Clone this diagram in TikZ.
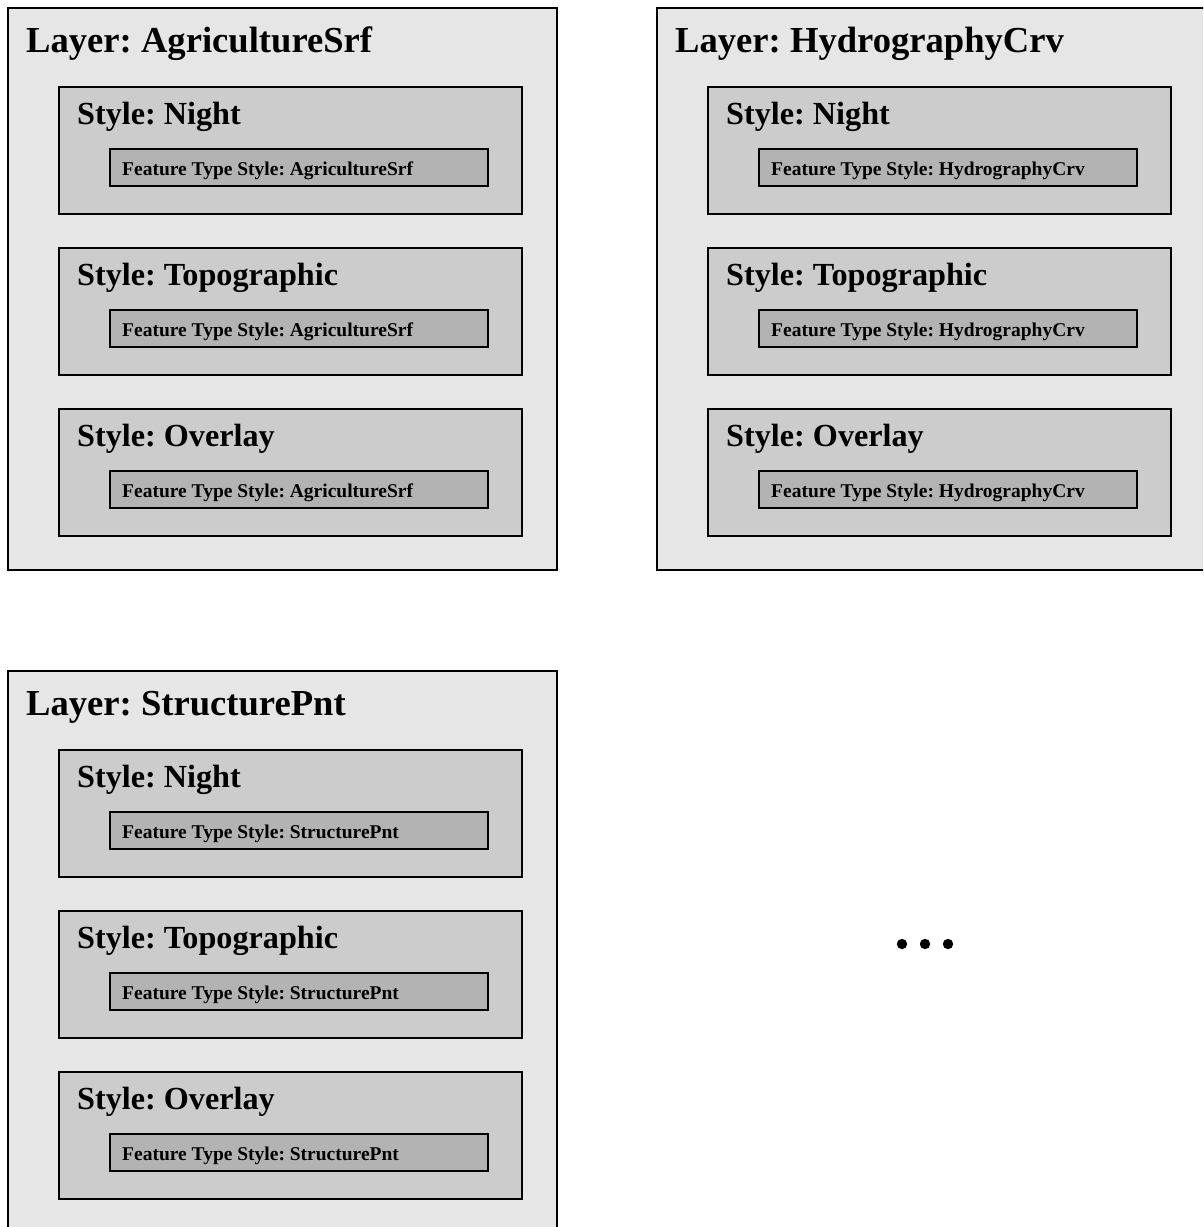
\documentclass[tikz,border=0pt]{standalone}
\usepackage{fontspec}
\setmainfont{Liberation Serif}
\frenchspacing
\begin{document}
\begin{tikzpicture}[x=1pt,y=-1pt,
  layerbox/.style={draw=black,line width=2.8pt,fill=layergray},
  stylebox/.style={draw=black,line width=2.8pt,fill=stylegray},
  ftsbox/.style={draw=black,line width=2.8pt,fill=ftsgray},
  layertext/.style={anchor=base west,inner sep=0pt,font=\fontsize{36.6}{40}\selectfont\bfseries},
  styletext/.style={anchor=base west,inner sep=0pt,font=\fontsize{32.2}{36}\selectfont\bfseries},
  ftstext/.style={anchor=base west,inner sep=0pt,font=\fontsize{19.5}{22}\selectfont\bfseries}]
\definecolor{layergray}{HTML}{E6E6E6}
\definecolor{stylegray}{HTML}{CCCCCC}
\definecolor{ftsgray}{HTML}{B3B3B3}
\useasboundingbox (0,0) rectangle (1203,1227);
\begin{scope}
\clip (0,0) rectangle (1203,1227);
% one layer panel: origin (x0,y0), name
\foreach \x/\y/\name/\id in {8/8/AgricultureSrf/a, 657/8/HydrographyCrv/b, 8/671/StructurePnt/c}{
  \draw[layerbox] (\x,\y) rectangle ++(549,562);
  \node[layertext] (layer\id) at (\x+18,\y+44) {Layer: \name};
  \foreach \s/\k in {Night/0, Topographic/1, Overlay/2}{
    \pgfmathsetmacro{\sy}{\y+79+161*\k}
    \draw[stylebox] (\x+51,\sy) rectangle ++(463,127);
    \node[styletext] (style\id\k) at (\x+69,\sy+37) {Style: \s};
    \draw[ftsbox] (\x+102,\sy+62) rectangle ++(378,37);
    \node[ftstext] (fts\id\k) at (\x+114,\sy+88) {Feature Type Style: \name};
  }
}
\end{scope}
% continuation marks
\foreach \i in {0,1,2}{
  \fill (902+23*\i,944) circle (5.2);
}
\end{tikzpicture}
\end{document}
